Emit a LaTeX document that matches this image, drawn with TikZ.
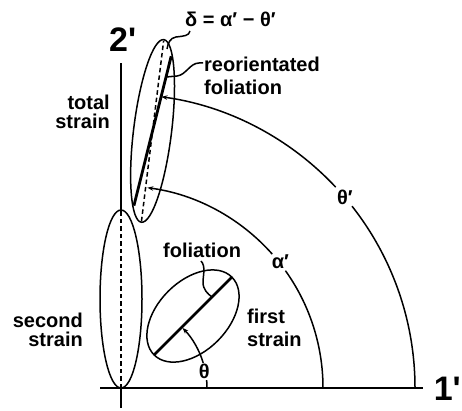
\documentclass[tikz,border=0pt]{standalone}
\usepackage{fontspec}
\setmainfont{Liberation Sans}
\usetikzlibrary{arrows.meta,calc}
\begin{document}
\begin{tikzpicture}[x=1pt,y=1pt,
  thinline/.style={line width=1.5pt},
  thickline/.style={line width=2.8pt},
  dashline/.style={line width=1.5pt, dash pattern=on 4.5pt off 3pt},
  arcarrow/.style={line width=1.5pt, -{Stealth[length=6pt,width=4.5pt]}},
  lab/.style={font=\bfseries\fontsize{20}{19}\selectfont, inner sep=0pt},
  labwide/.style={font=\bfseries\fontsize{20}{23}\selectfont, inner sep=0pt},
  axlab/.style={font=\bfseries\fontsize{34}{34}\selectfont, inner sep=0pt},
  greek/.style={font=\bfseries\fontsize{20}{20}\selectfont, inner sep=0pt}]
\useasboundingbox (0,0) rectangle (462,410);
% axes
\coordinate (O) at (121,22);
\coordinate (Xl) at (100,22);
\coordinate (Xr) at (423,22);
\coordinate (Yb) at (121,2);
\coordinate (Yt) at (121,347);
\coordinate (S2t) at (121,200);
\coordinate (S2c) at (121,111);
\draw[thinline] (Xl) -- (Xr);
\draw[thinline] (Yb) -- (O);
\draw[dashline] (O) -- (S2t);
\draw[thinline] (S2t) -- (Yt);
% second strain ellipse
\draw[thinline] (S2c) ellipse[x radius=21, y radius=89];
% first strain ellipse and foliation
\coordinate (F1c) at ($(O)+(45:101.8)$);
\draw[thinline, rotate around={45:(F1c)}] (F1c) ellipse[x radius=55, y radius=35];
\coordinate (F1a) at ($(O)+(45:47)$);
\coordinate (F1b) at ($(O)+(45:157)$);
\draw[thickline] (F1a) -- (F1b);
% total strain ellipse
\coordinate (Tc) at ($(O)+(83:259)$);
\draw[thinline, rotate around={83:(Tc)}] (Tc) ellipse[x radius=92, y radius=19];
\coordinate (Ta) at ($(O)+(83:168)$);
\coordinate (Tb) at ($(O)+(83:350)$);
\draw[dashline] (Ta) -- (Tb);
\coordinate (Ra) at ($(Tc)+(256:77)$);
\coordinate (Rb) at ($(Tc)+(76:77)$);
\draw[thickline] (Ra) -- (Rb);
% arcs
\draw[thinline] ($(O)+(0:294)$) arc[start angle=0, end angle=38.2, radius=294];
\draw[arcarrow] ($(O)+(43.1:294)$) arc[start angle=43.1, end angle=82.1, radius=294];
\draw[thinline] ($(O)+(0:202)$) arc[start angle=0, end angle=35.5, radius=202];
\draw[arcarrow] ($(O)+(41.5:202)$) arc[start angle=41.5, end angle=82.5, radius=202];
\draw[thinline] ($(O)+(0:86)$) arc[start angle=0, end angle=5.3, radius=86];
\draw[arcarrow] ($(O)+(17:86)$) arc[start angle=17, end angle=44.3, radius=86];
% arc labels
\node[greek] (thp) at ($(O)+(40.4:294)$) {θ′};
\node[greek] (alp) at ($(O)+(38.3:203)$) {α′};
\node[greek] (th) at ($(O)+(11.4:85)$) {θ};
% text labels
\node[lab, align=right, anchor=north east] (total) at (110,315) {total\\strain};
\node[lab, align=right, anchor=north east] (second) at (83,97) {second\\strain};
\node[labwide, align=left, anchor=north west] (first) at (247,101) {first\\strain};
\node[lab, anchor=base west] (fol) at (163,153) {foliation};
\node[labwide, align=left, anchor=north west] (reo) at (204,353) {reorientated\\foliation};
\node[greek, anchor=base west] (delta) at (185,383) {δ = α′ − θ′};
\node[axlab, anchor=base west] (two) at (109,358) {2\textquotesingle};
\node[axlab, anchor=base east] (one) at (461,10) {1\textquotesingle};
% leaders
\coordinate (F1p) at ($(O)+(45:128.7)$);
\coordinate (fl1) at (201,149);
\draw[thinline] (fl1) .. controls (206,144) and (203,134) .. (203,128) .. controls (203,120) and (208,116) .. (F1p);
\coordinate (Rp) at (166,333);
\coordinate (rl1) at (203,347);
\draw[thinline] (rl1) -- (199,347) .. controls (190,347) and (186,335) .. (177,334) -- (Rp);
\coordinate (Dp) at (167,361);
\coordinate (dl1) at (190,379);
\draw[thinline] (dl1) .. controls (189,374) and (184,374) .. (176,373) .. controls (170,372) and (168,367) .. (Dp);
\end{tikzpicture}
\end{document}
